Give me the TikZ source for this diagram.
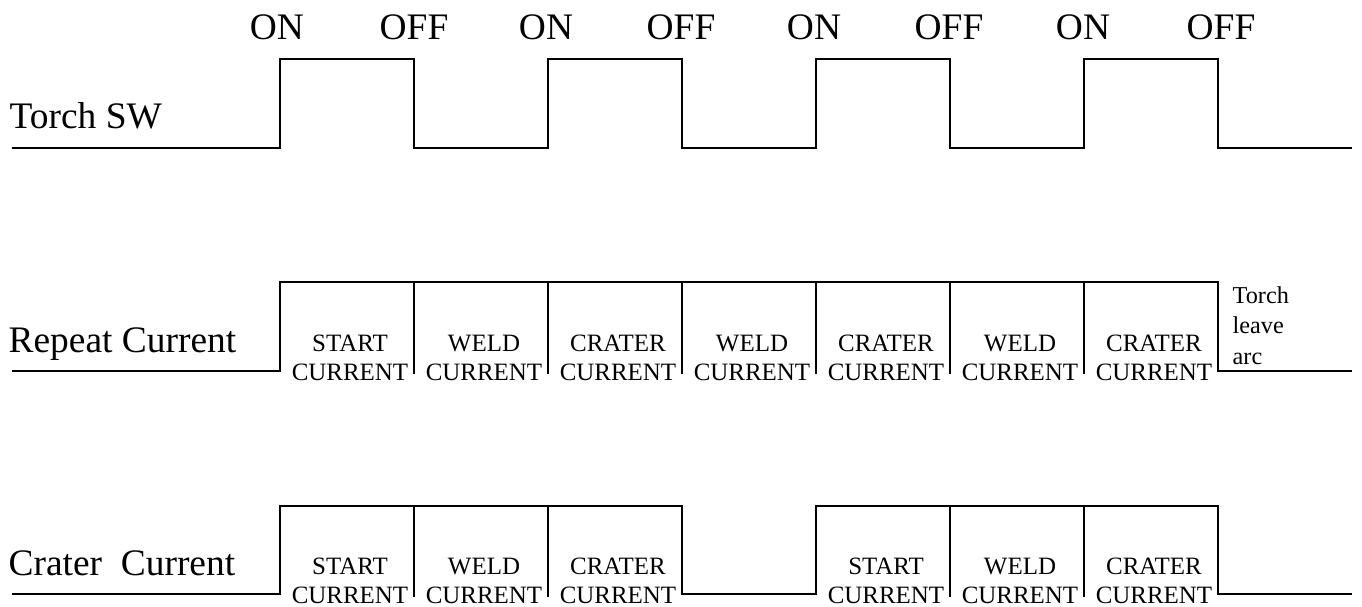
\documentclass[tikz,border=0pt]{standalone}
\usepackage{fontspec}
\setmainfont{Liberation Serif}
\usepackage{tikz}

\begin{document}
\begin{tikzpicture}[x=0.02cm, y=-0.02cm, line width=0.75pt]

\tikzstyle{big} = [font=\fontsize{21.3}{26}\selectfont, inner sep=0pt]
\tikzstyle{lab} = [font=\fontsize{14.2}{16.5}\selectfont, inner sep=0pt, align=center, anchor=south]
\tikzstyle{arc} = [font=\fontsize{13.8}{17.3}\selectfont, inner sep=0pt, align=left, anchor=south west]

\useasboundingbox (0,0) rectangle (1362,606);

    % row names
    \node[big, anchor=base west] (name-t) at (9,128) {Torch SW};
    \node[big, anchor=base west] (name-r) at (8,352) {Repeat Current};
    \node[big, anchor=base west] (name-c) at (8,575) {Crater\hspace{0.25em} Current};

    % switch states
    \foreach \x / \t [count=\i] in {277/ON,414/OFF,546/ON,681/OFF,814/ON,949/OFF,1083/ON,1221/OFF}
        \node[big, anchor=base] (S-\i) at (\x,39) {\t};

    % torch switch signal
    \draw (12,148) foreach \x in {280,548,816,1084}
        { -- (\x,148) -- (\x,59) -- (\x+134,59) -- (\x+134,148) } -- (1352,148);

    % repeat current signal
    \draw (12,371) -- (280,371) -- (280,282) -- (1218,282) -- (1218,371) -- (1352,371);
    \foreach \x in {414,548,682,816,950,1084}
        \draw (\x,282) -- (\x,374);

    % crater current signal
    \draw (12,594) -- (280,594) -- (280,506) -- (682,506) -- (682,594)
          -- (816,594) -- (816,506) -- (1218,506) -- (1218,594) -- (1352,594);
    \foreach \x in {414,548,950,1084}
        \draw (\x,506) -- (\x,597);

    % repeat current phases
    \foreach \x / \t [count=\i] in {350/START,484/WELD,618/CRATER,752/WELD,886/CRATER,1020/WELD,1154/CRATER}
        \node[lab] (L-r-\i) at (\x,381) {\t\\CURRENT};
    \node[arc] (L-r-8) at (1232,365) {Torch\\leave\\arc};

    % crater current phases
    \foreach \x / \t [count=\i] in {350/START,484/WELD,618/CRATER,886/START,1020/WELD,1154/CRATER}
        \node[lab] (L-c-\i) at (\x,604) {\t\\CURRENT};

\end{tikzpicture}
\end{document}
